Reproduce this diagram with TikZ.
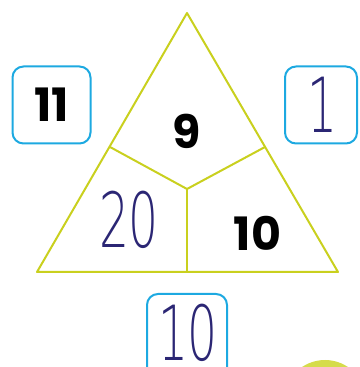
\documentclass[tikz,border=0pt]{standalone}
\usepackage{fontspec}
\usepackage{tikz}
\usetikzlibrary{positioning}
\newfontfamily\boldnumfont{Poppins}[UprightFont=* Bold]
\newfontfamily\handfont{DejaVu Sans ExtraLight}
\definecolor{trigreen}{HTML}{C9D01E}
\definecolor{boxcyan}{HTML}{1DA9E1}
\definecolor{handink}{HTML}{2B2674}
\definecolor{blobgreen}{HTML}{D5DC4B}

\begin{document}
\begin{tikzpicture}[
    x=1pt, y=1pt,
    edge/.style={trigreen, line width=2pt, line join=round},
    numbox/.style={draw=boxcyan, line width=2pt, rounded corners=11pt, minimum width=78pt, minimum height=77pt, inner sep=0pt},
    boldnum/.style={font=\boldnumfont\fontsize{46}{46}\selectfont, text=black, inner sep=0pt},
    handnum/.style={font=\handfont\fontsize{76}{76}\selectfont, text=handink, inner sep=0pt}
]
    \useasboundingbox (0,0) rectangle (359,367);
    \clip (0,0) rectangle (359,367);

    % triangle corners and cut points
    \coordinate (apex) at (187,354);
    \coordinate (bl) at (37,95);
    \coordinate (br) at (338,95);
    \coordinate (mid) at (187,178);
    \coordinate (sl) at (110,220);
    \coordinate (sr) at (265,220);
    \coordinate (bm) at (187,95);

    \draw[edge] (apex) -- (bl) -- (br) -- cycle;
    \draw[edge] (sl) -- (mid) -- (sr);
    \draw[edge] (mid) -- (bm);

    % numbers inside the triangle
    \node[boldnum] (top) at (187,235.5) {9};
    \node[handnum, xscale=0.62] (left) at (129,147.5) {20};
    \node[boldnum] (right) at (257.5,133.5) {10};

    % boxes round the triangle
    \node[numbox, boldnum, minimum width=78pt, minimum height=77pt] (sumleft) at (51.5,262) {11};
    \node[numbox, minimum width=72pt, minimum height=77pt] (sumright) at (321,262) {};
    \node[handnum, xscale=0.62] (diffright) at (322,262) {1};
    \node[numbox, minimum width=80pt, minimum height=90pt] (sumbottom) at (187,28) {};
    \node[handnum, xscale=0.62] (diffbottom) at (188,34.5) {10};

    % green disc cut by the edge
    \fill[blobgreen] (325,-34) circle (41);
\end{tikzpicture}
\end{document}
